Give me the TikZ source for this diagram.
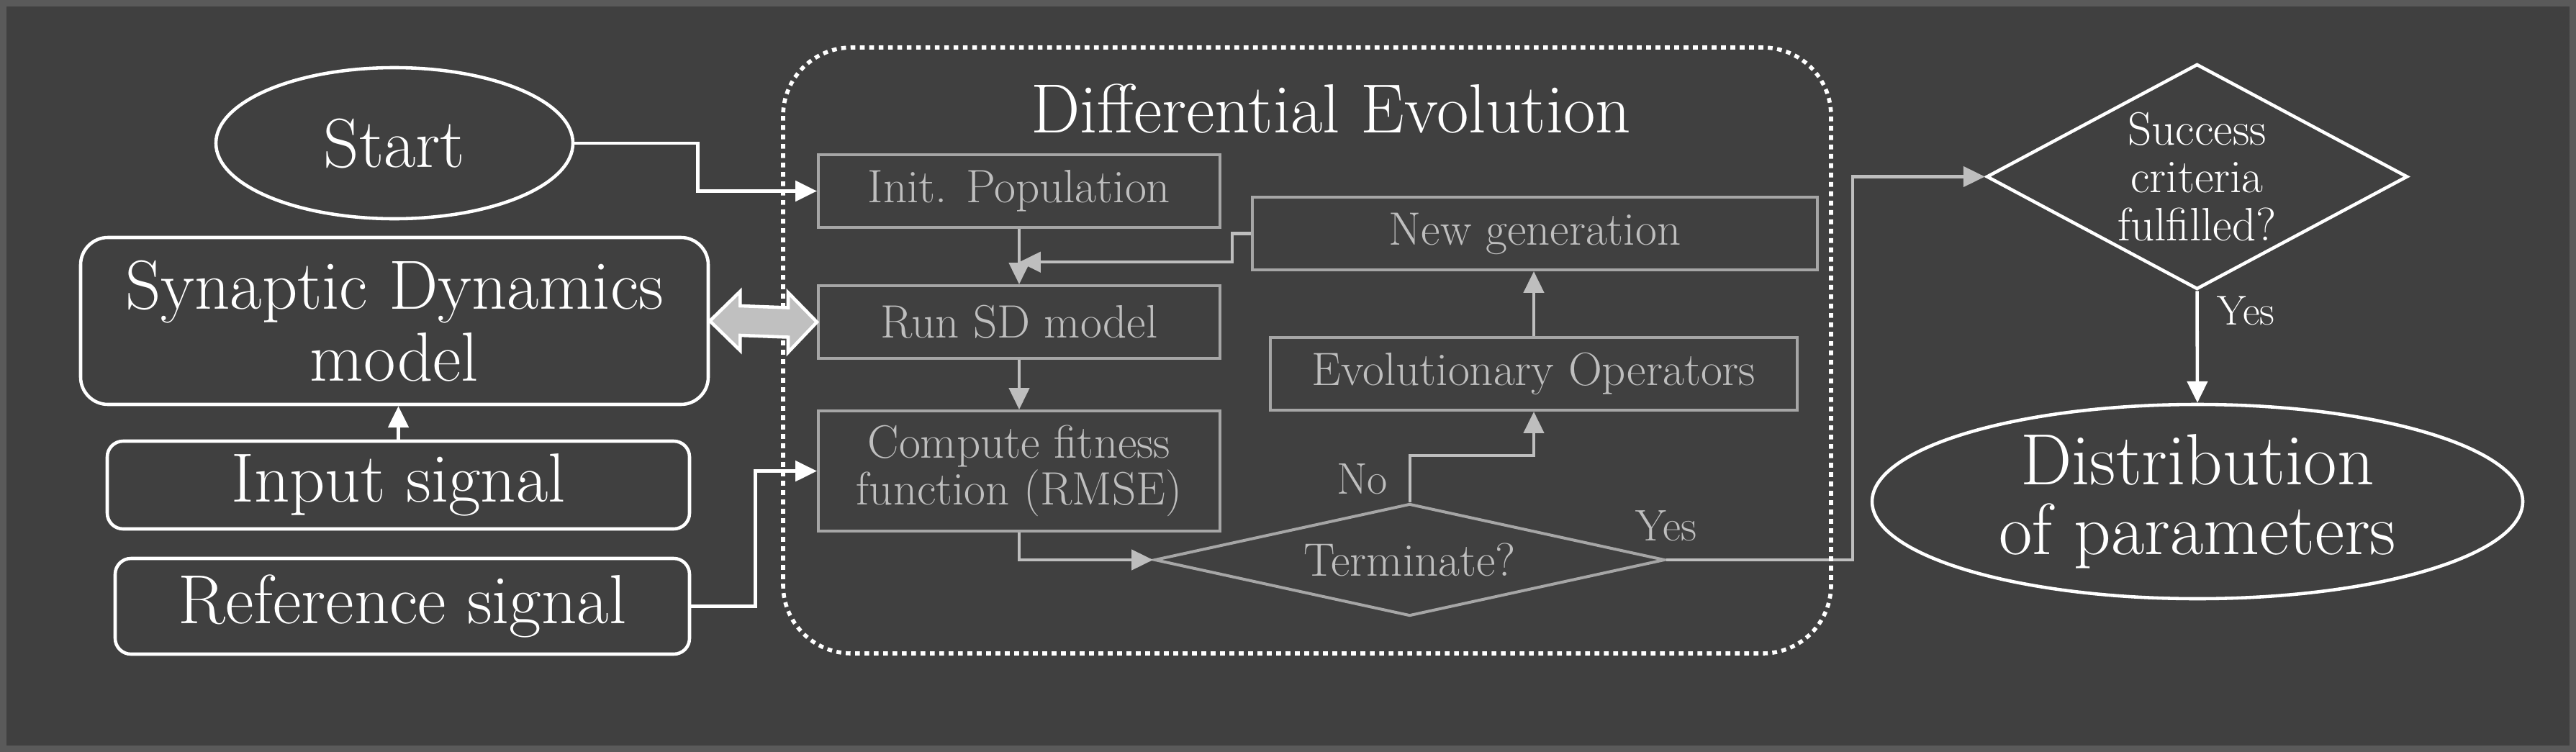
\documentclass[tikz,border=0pt]{standalone}
\usepackage{tikz}
\usetikzlibrary{arrows.meta, positioning, shapes.geometric, calc}
\definecolor{bgdark}{HTML}{404040}
\definecolor{frameg}{HTML}{5A5A5A}
\definecolor{deline}{HTML}{A6A6A6}
\definecolor{detext}{HTML}{BEBEBE}
\definecolor{arrfill}{HTML}{C0C0C0}

\begin{document}
\begin{tikzpicture}[
    wbox/.style={draw=white, line width=1.3pt, rounded corners=0.22cm, text=white,
                 font=\fontsize{27.5}{28.5}\selectfont, align=center, inner sep=0pt},
    wterm/.style={ellipse, draw=white, line width=1.3pt, text=white,
                  align=center, inner sep=0pt},
    gbox/.style={draw=deline, line width=1.15pt, text=detext, align=center,
                 inner sep=0pt, minimum width=5.58cm, minimum height=1.01cm,
                 font=\fontsize{18.5}{18.5}\selectfont},
    garr/.style={-{Triangle[length=8.5pt,width=8pt]}, draw=detext, line width=1.15pt},
    warr/.style={-{Triangle[length=8.5pt,width=8pt]}, draw=white, line width=1.3pt},
    lbl/.style={font=\fontsize{17.5}{19}\selectfont, inner sep=1pt},
]
  \useasboundingbox (0,0) rectangle (35.79,-10.45);
  \fill[bgdark] (0,0) rectangle (35.79,-10.45);
  \draw[frameg, line width=0.09cm] (0.045,-0.045) rectangle (35.745,-10.405);

  \node[wterm, minimum width=4.96cm, minimum height=2.10cm,
        font=\fontsize{27.5}{28.5}\selectfont] (start) at (5.48,-1.99) {Start};
  \node[wbox, rounded corners=0.38cm, minimum width=8.72cm, minimum height=2.32cm]
        (sd) at (5.48,-4.46) {Synaptic Dynamics\\model};
  \node[wbox, minimum width=8.09cm, minimum height=1.22cm] (insig) at (5.535,-6.74) {Input signal};
  \node[wbox, minimum width=7.98cm, minimum height=1.33cm] (refsig) at (5.59,-8.425) {Reference signal};

  \node[text=white, font=\fontsize{27.5}{28}\selectfont] (detitle) at (18.49,-1.51) {Differential Evolution};
  \node[gbox] (init) at (14.16,-2.655) {Init. Population};
  \node[gbox, below=0.77cm of init] (runsd) {Run SD model};
  \node[gbox, minimum height=1.67cm, below=0.69cm of runsd] (fitness) {Compute fitness\\function (RMSE)};
  \node[gbox, minimum width=7.85cm] (newgen) at (21.325,-3.245) {New generation};
  \node[gbox, minimum width=7.32cm] (evolop) at (21.31,-5.195) {Evolutionary Operators};
  \node[gbox, diamond, aspect=4.54, minimum width=7.09cm, minimum height=1.56cm]
        (term) at (19.585,-7.78) {Terminate?};

  \node[diamond, draw=white, line width=1.3pt, text=white, aspect=1.87,
        minimum width=5.85cm, minimum height=3.13cm, inner sep=0pt, align=center,
        font=\fontsize{18.5}{19}\selectfont] (success) at (30.525,-2.455) {Success\\criteria\\fulfilled?};
  \node[wterm, minimum width=9.04cm, minimum height=2.70cm,
        font=\fontsize{28.7}{27.5}\selectfont] (distrib) at (30.53,-6.97) {Distribution\\of parameters};

  \coordinate (loopin) at ($(init.south)!0.6!(runsd.north)$);

  \draw[warr] (start.east) -- ++(1.71,0) |- (init.west);
  \draw[warr] (refsig.east) -- ++(0.89,0) |- (fitness.west);
  \draw[warr] (insig.north) -- (insig.north |- sd.south);
  \draw[garr] (init) -- (runsd);
  \draw[garr] (runsd) -- (fitness);
  \draw[garr] (fitness.south) |- (term.west);
  \draw[garr] (term.north) -- ++(0,0.65) node[lbl, text=detext, midway, left=0.25cm] {No} -| (evolop.south);
  \draw[garr] (evolop.north) -- (evolop.north |- newgen.south);
  \draw[garr] (newgen.west) -- ++(-0.26,0) |- (loopin);
  \draw[garr] (term.east) -- node[lbl, text=detext, pos=0, above=0.2cm] {Yes} ++(2.59,0) |- (success.west);
  \draw[warr] (success.south) -- node[lbl, text=white, pos=0.18, right=0.22cm,
        font=\fontsize{16.5}{18}\selectfont] {Yes} (distrib.north);

  \draw[white, line width=1.6pt, dash pattern=on 1.9pt off 1.8pt, rounded corners=0.95cm]
        (10.88,-0.66) rectangle (25.44,-9.08);

  \draw[white, line width=1.3pt, fill=arrfill] (sd.east) -- ++(0.42,0.41) -- ++(0,-0.20)
        -- ($(runsd.west)+(-0.40,0.20)$) -- ++(0,0.21) -- (runsd.west) -- ++(-0.40,-0.42)
        -- ++(0,0.21) -- ($(sd.east)+(0.42,-0.20)$) -- ++(0,-0.21) -- cycle;
\end{tikzpicture}
\end{document}
